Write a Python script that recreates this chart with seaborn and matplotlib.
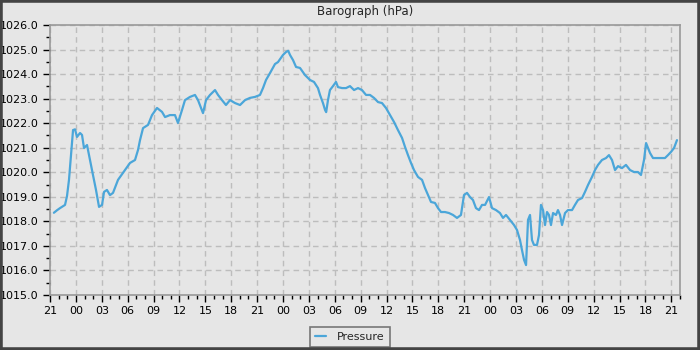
import numpy as np
import pandas as pd
import matplotlib
matplotlib.use("Agg")
import matplotlib.pyplot as plt
import seaborn as sns
from matplotlib.ticker import MultipleLocator, FuncFormatter

# hours since 21:00 of first day
hours = [0.45, 0.8, 1.16, 1.74, 1.97, 2.20, 2.43, 2.67, 2.90, 3.13, 3.48, 3.71, 3.94, 4.29, 4.63, 4.98,
         5.33, 5.68, 6.03, 6.26, 6.60, 6.95, 7.30, 7.88, 8.69, 9.27, 9.85, 10.20, 10.43, 10.78, 11.36,
         11.82, 12.40, 12.98, 13.33, 13.90, 14.48, 14.83, 15.30, 15.64, 16.22, 16.80, 17.15, 17.73,
         18.08, 18.54, 19.12, 19.47, 19.93, 20.39, 20.86, 21.44, 22.02, 22.60, 23.17, 23.75, 24.33,
         24.68, 25.03, 25.49, 26.07, 26.42, 27.00, 27.35, 27.60, 27.81, 28.16, 28.51, 28.97, 29.55,
         30.13, 30.59, 31.05, 31.29, 31.63, 31.87, 32.00, 32.21, 32.44, 32.79, 33.14, 33.37, 33.84,
         34.30, 34.76, 35.23, 35.69, 36.15, 36.62, 37.08, 37.54, 38.01, 38.47, 38.93, 39.40, 39.86,
         40.32, 40.79, 41.14, 41.48, 41.83, 42.18, 42.64, 43.11, 43.45, 43.80, 44.15, 44.61, 44.96,
         45.31, 45.77, 46.23, 46.70, 47.16, 47.62, 47.97, 48.32, 48.67, 49.01, 49.36, 49.71, 50.06,
         50.41, 50.87, 51.22, 51.68, 52.14, 52.49, 52.84, 53.30, 53.77, 54.11, 54.46, 54.69, 54.93,
         55.16, 55.39, 55.62, 55.85, 56.08, 56.43, 56.66, 56.89, 57.13, 57.36, 57.59, 57.82, 58.05,
         58.29, 58.63, 58.86, 59.10, 59.33, 59.68, 60.02, 60.49, 60.83, 61.18, 61.65, 61.99, 62.34,
         62.80, 63.15, 63.50, 63.96, 64.43, 64.77, 65.12, 65.47, 65.82, 66.28, 66.74, 67.21, 67.67,
         68.13, 68.48, 68.83, 69.07, 69.29, 69.52, 69.87, 70.34, 70.80, 71.26, 71.61, 71.96, 72.31,
         72.65]

pressure = [1018.35, 1018.45, 1018.54, 1018.67, 1019.03, 1019.69, 1020.70, 1021.72, 1021.75, 1021.44,
            1021.60, 1021.52, 1020.99, 1021.11, 1020.50, 1019.89, 1019.28, 1018.59, 1018.67, 1019.20,
            1019.28, 1019.07, 1019.16, 1019.69, 1020.09, 1020.38, 1020.50, 1020.91, 1021.31, 1021.80,
            1021.93, 1022.33, 1022.62, 1022.46, 1022.25, 1022.33, 1022.33, 1022.01, 1022.54, 1022.94,
            1023.07, 1023.15, 1022.94, 1022.41, 1022.94, 1023.15, 1023.35, 1023.15, 1022.94, 1022.74,
            1022.94, 1022.82, 1022.74, 1022.94, 1023.03, 1023.07, 1023.15, 1023.43, 1023.76, 1024.04,
            1024.41, 1024.49, 1024.78, 1024.90, 1024.95, 1024.78, 1024.57, 1024.29, 1024.25, 1023.96,
            1023.76, 1023.68, 1023.43, 1023.15, 1022.82, 1022.54, 1022.45, 1022.94, 1023.35, 1023.51,
            1023.68, 1023.47, 1023.43, 1023.43, 1023.51, 1023.35, 1023.43, 1023.35, 1023.15, 1023.15,
            1023.03, 1022.86, 1022.82, 1022.62, 1022.33, 1022.05, 1021.72, 1021.40, 1021.03, 1020.70,
            1020.38, 1020.09, 1019.81, 1019.69, 1019.36, 1019.07, 1018.79, 1018.75, 1018.54, 1018.38,
            1018.38, 1018.34, 1018.26, 1018.14, 1018.26, 1019.07, 1019.16, 1018.99, 1018.87, 1018.54,
            1018.46, 1018.67, 1018.67, 1018.99, 1018.54, 1018.46, 1018.34, 1018.14, 1018.26, 1018.06,
            1017.85, 1017.65, 1017.24, 1016.83, 1016.43, 1016.22, 1018.06, 1018.26, 1017.24, 1017.04,
            1017.04, 1017.44, 1018.67, 1018.46, 1017.85, 1018.38, 1018.26, 1017.85, 1018.34, 1018.26,
            1018.46, 1018.26, 1017.85, 1018.34, 1018.46, 1018.46, 1018.67, 1018.87, 1018.95, 1019.20,
            1019.48, 1019.81, 1020.09, 1020.30, 1020.50, 1020.58, 1020.70, 1020.50, 1020.09, 1020.25,
            1020.17, 1020.30, 1020.09, 1020.01, 1020.01, 1019.89, 1020.50, 1021.19, 1020.99, 1020.79,
            1020.58, 1020.58, 1020.58, 1020.58, 1020.70, 1020.83, 1020.99, 1021.31]

start_hour = 21
title = "Barograph (hPa)"
series_name = "Pressure"

bg = "#e6e6e6"
line_color = "#4ba6d9"

sns.set_style("ticks", {"axes.facecolor": bg, "figure.facecolor": bg})
plt.rcParams["font.family"] = ["DejaVu Sans"]

fig = plt.figure(figsize=(7, 3.5), dpi=100, facecolor=bg)
ax = fig.add_axes([50/700, 1-295/350, 630/700, 270/350])

df = pd.DataFrame({"hour": hours, "pressure": pressure})
sns.lineplot(data=df, x="hour", y="pressure", ax=ax, color=line_color, lw=1.6,
             label=series_name, estimator=None, legend=False)

ax.set_xlim(0, 73.0)
ax.set_ylim(1015, 1026)
ax.xaxis.set_major_locator(MultipleLocator(3))
ax.xaxis.set_minor_locator(MultipleLocator(1))
ax.yaxis.set_major_locator(MultipleLocator(1))
ax.yaxis.set_minor_locator(MultipleLocator(0.5))
ax.xaxis.set_major_formatter(FuncFormatter(lambda v, p: f"{int(round(start_hour + v)) % 24:02d}"))
ax.yaxis.set_major_formatter(FuncFormatter(lambda v, p: f"{v:.1f}"))
ax.tick_params(axis="both", which="major", length=5, width=1, color="black", labelsize=8,
               labelcolor="black", direction="out", pad=3)
ax.tick_params(axis="both", which="minor", length=3, width=1, color="black", direction="out")
ax.grid(True, which="major", linestyle=(0, (4, 3)), color="#bdbdbd", lw=1)
for s in ax.spines.values():
    s.set_visible(True)
    s.set_color("#999999")
    s.set_linewidth(1.2)
ax.set_xlabel("")
ax.set_ylabel("")
ax.set_title(title, fontsize=8.5, pad=7)

handles = ax.get_lines()[:1]
leg = fig.legend(handles, [series_name], loc="lower center", bbox_to_anchor=(0.5, 0.009),
                 frameon=True, fontsize=8, handlelength=1.0, fancybox=False, borderpad=0.45,
                 handletextpad=1.0, borderaxespad=0)
leg.get_frame().set_edgecolor("#777777")
leg.get_frame().set_facecolor(bg)
leg.get_frame().set_alpha(1)
leg.get_frame().set_linewidth(1.2)

fig.patches.append(plt.Rectangle((0, 0), 1, 1, transform=fig.transFigure, fill=False,
                                 edgecolor="#444444", lw=4, zorder=10))
fig.savefig("out.png", dpi=100, facecolor=bg)
